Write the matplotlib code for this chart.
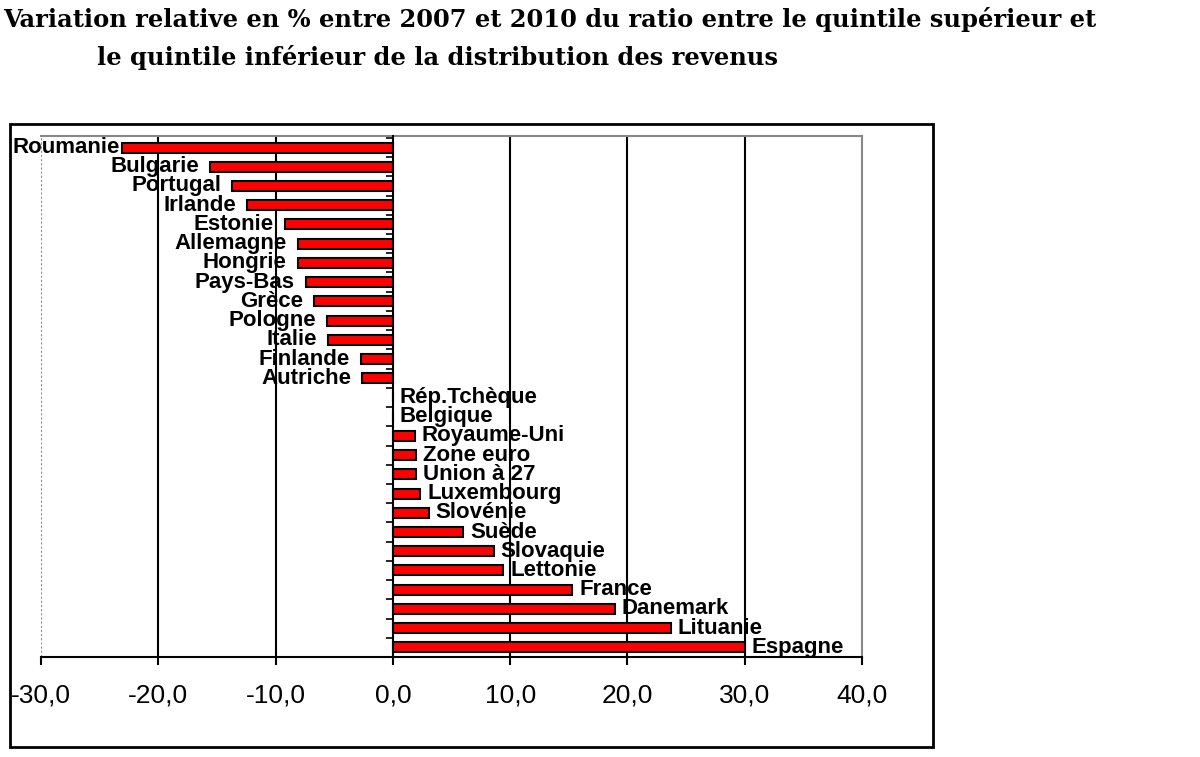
import matplotlib
matplotlib.use("Agg")
import matplotlib.pyplot as plt
from matplotlib.patches import Rectangle

# categories and values (relative change in %, 2007 -> 2010)
pays = ["Roumanie", "Bulgarie", "Portugal", "Irlande", "Estonie", "Allemagne",
        "Hongrie", "Pays-Bas", "Grèce", "Pologne", "Italie", "Finlande",
        "Autriche", "Rép.Tchèque", "Belgique", "Royaume-Uni", "Zone euro",
        "Union à 27", "Luxembourg", "Slovénie", "Suède", "Slovaquie",
        "Lettonie", "France", "Danemark", "Lituanie", "Espagne"]
variation = [-23.1, -15.6, -13.7, -12.4, -9.2, -8.1,
             -8.1, -7.4, -6.7, -5.6, -5.5, -2.75,
             -2.6, 0.0, 0.0, 1.85, 2.0,
             2.0, 2.35, 3.05, 6.0, 8.6,
             9.4, 15.3, 18.9, 23.7, 30.0]
xticks = [-30, -20, -10, 0, 10, 20, 30, 40]
xtick_labels = ["-30,0", "-20,0", "-10,0", "0,0", "10,0", "20,0", "30,0", "40,0"]

titre1 = "Variation relative en % entre 2007 et 2010 du ratio entre le quintile supérieur et"
titre2 = "le quintile inférieur de la distribution des revenus"

W, H = 1200, 757
fig = plt.figure(figsize=(W / 100, H / 100), dpi=100)

# title
fig.text(3 / W, 1 - 19 / H, titre1, fontsize=17.4, fontweight="bold",
         family="DejaVu Serif", ha="left", va="center")
fig.text(97 / W, 1 - 57 / H, titre2, fontsize=17.4, fontweight="bold",
         family="DejaVu Serif", ha="left", va="center")

# outer chart frame
fig.patches.append(Rectangle((10 / W, 1 - 747 / H), 923 / W, 623 / H,
                             transform=fig.transFigure, fill=False,
                             edgecolor="black", linewidth=2))

left, right, top, bottom = 41, 862, 136, 657
ax = fig.add_axes([left / W, 1 - bottom / H, (right - left) / W, (bottom - top) / H])

n = len(pays)
ypos = list(range(n))
ax.barh(ypos, variation, height=0.52, color="#ff0000", edgecolor="black",
        linewidth=1.5, zorder=3)

ax.set_xlim(-30, 40)
ax.set_ylim(n - 0.5, -0.6)

# vertical gridlines (inner only)
for t in xticks[1:-1]:
    if t != 0:
        ax.axvline(t, color="black", linewidth=1.5, zorder=1)
ax.axvline(-30, color="#888888", linewidth=1.5, linestyle=(0, (1, 1)), zorder=1)

# spines
for s in ["top", "right"]:
    ax.spines[s].set_color("#888888")
    ax.spines[s].set_linestyle((0, (1, 1)))
    ax.spines[s].set_linewidth(1.5)
ax.spines["bottom"].set_linewidth(1.5)
ax.spines["left"].set_position(("data", 0))
ax.spines["left"].set_linewidth(1.5)
ax.spines["left"].set_zorder(4)

ax.set_yticks([i + 0.5 for i in range(-1, n)])
ax.set_yticklabels([])
ax.tick_params(axis="y", length=5, width=1.2, direction="out")
ax.set_xticks(xticks)
ax.set_xticklabels(xtick_labels, family="Liberation Sans", fontsize=19)
ax.tick_params(axis="x", length=6, width=1.5, pad=13)

# category labels next to bar ends
labels = []
for y, v, name in zip(ypos, variation, pays):
    if v < 0:
        t = ax.annotate(name, (v, y), xytext=(-8, 0), textcoords="offset points",
                        ha="right", va="center", fontsize=16, fontweight="bold",
                        family="Liberation Sans", zorder=5)
    else:
        t = ax.annotate(name, (v, y), xytext=(5, 0), textcoords="offset points",
                        ha="left", va="center", fontsize=16, fontweight="bold",
                        family="Liberation Sans", zorder=5)
    labels.append(t)

# keep labels inside the frame
fig.canvas.draw()
renderer = fig.canvas.get_renderer()
for t in labels:
    bb = t.get_window_extent(renderer)
    if bb.x0 < 12:
        ox, oy = t.xyann
        t.xyann = (ox + (12 - bb.x0) * 72 / 100, oy)

fig.savefig("out.png", dpi=100)
